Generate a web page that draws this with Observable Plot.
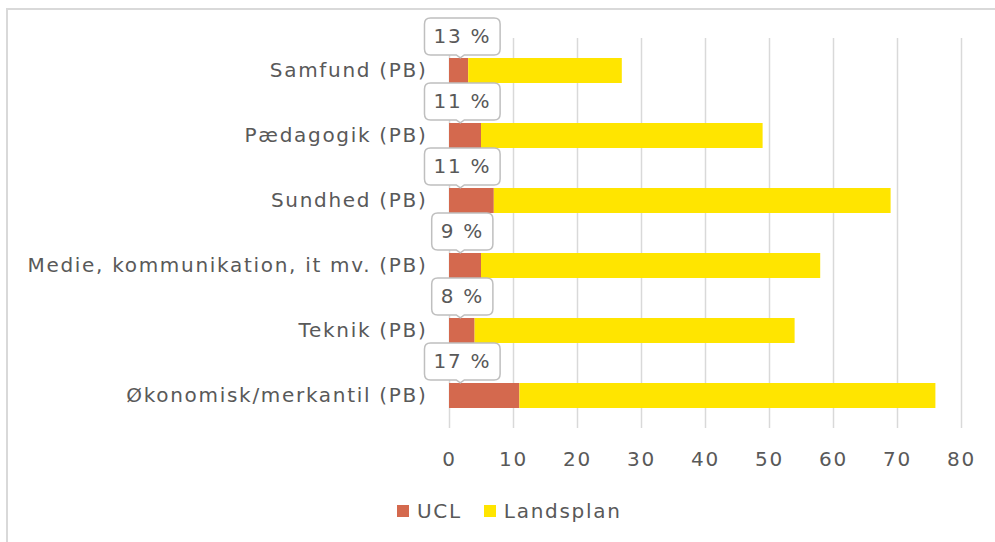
<!DOCTYPE html>
<html><head><meta charset="utf-8">
<script src="https://cdn.jsdelivr.net/npm/d3@7"></script>
<script src="https://cdn.jsdelivr.net/npm/@observablehq/plot@0.6"></script>
<style>
html,body{margin:0;padding:0;background:#fff;overflow:hidden;}
body{font-family:"DejaVu Sans",sans-serif;color:#595959;}
#wrap{position:relative;width:995px;height:542px;overflow:hidden;}
#frame{position:absolute;left:6px;top:8px;width:1100px;height:700px;border:2px solid #d9d9d9;box-sizing:border-box;}
#chart{position:absolute;left:0;top:0;}
#legend{position:absolute;left:397px;top:500px;display:flex;align-items:center;font-size:20px;letter-spacing:1.7px;line-height:22px;color:#595959;}
#legend .item{display:flex;align-items:center;margin-right:22px;}
#legend .sw{width:12px;height:12px;margin-right:8px;}
</style></head><body>
<div id="wrap">
<div id="frame"></div>
<div id="chart"></div>
<div id="legend"></div>
</div>
<script>
const categories = ["Samfund (PB)", "Pædagogik (PB)", "Sundhed (PB)", "Medie, kommunikation, it mv. (PB)", "Teknik (PB)", "Økonomisk/merkantil (PB)"];
const uclValues = [3, 5, 7, 5, 4, 11];
const landsplanValues = [24, 44, 62, 53, 50, 65];
const pctLabels = [13, 11, 11, 9, 8, 17];
const xTicks = [0, 10, 20, 30, 40, 50, 60, 70, 80];
const seriesNames = ["UCL", "Landsplan"];
const seriesColors = ["#D4694E", "#FFE500"];

const rows = [];
categories.forEach((c, i) => {
  rows.push({cat: c, series: seriesNames[0], value: uclValues[i], order: 0});
  rows.push({cat: c, series: seriesNames[1], value: landsplanValues[i], order: 1});
});
const callouts = categories.map((c, i) => ({cat: c, label: pctLabels[i] + " %"}));

const chart = Plot.plot({
  width: 995,
  height: 480,
  marginLeft: 449,
  marginRight: 34,
  marginTop: 38,
  marginBottom: 52,
  style: {fontFamily: "DejaVu Sans", fontSize: "20px", letterSpacing: "1.7px", color: "#595959", background: "transparent", overflow: "visible"},
  x: {domain: [0, 80], ticks: xTicks, tickSize: 0, tickPadding: 23, label: null},
  y: {domain: categories, paddingInner: 0.615, paddingOuter: 0.3075, tickSize: 0, tickPadding: 22, label: null},
  color: {domain: seriesNames, range: seriesColors},
  marks: [
    Plot.gridX(xTicks, {stroke: "#d9d9d9", strokeOpacity: 1, strokeWidth: 1.5}),
    Plot.barX(rows, Plot.stackX({x: "value", y: "cat", fill: "series", order: "order"})),
    Plot.text(callouts, {x: 2, y: "cat", text: "label", dy: -34, fill: "#595959", textAnchor: "middle", lineAnchor: "middle"})
  ]
});
document.getElementById("chart").appendChild(chart);

// draw callout boxes behind the label texts
const ns = "http://www.w3.org/2000/svg";
chart.querySelectorAll('g[aria-label="text"] text').forEach(t => {
  const b = t.getBBox();
  const padX = 9, w = b.width + 2 * padX, h = 37;
  const cx = b.x + b.width / 2, cy = b.y + b.height / 2;
  const x0 = cx - w / 2, y0 = cy - h / 2, x1 = cx + w / 2, y1 = cy + h / 2, r = 6;
  const px = cx - 2;
  const d = `M${x0 + r},${y0} H${x1 - r} Q${x1},${y0} ${x1},${y0 + r} V${y1 - r} Q${x1},${y1} ${x1 - r},${y1} H${px + 4} L${px},${y1 + 3} L${px - 4},${y1} H${x0 + r} Q${x0},${y1} ${x0},${y1 - r} V${y0 + r} Q${x0},${y0} ${x0 + r},${y0} Z`;
  const p = document.createElementNS(ns, "path");
  p.setAttribute("d", d);
  p.setAttribute("fill", "#fff");
  p.setAttribute("stroke", "#bfbfbf");
  p.setAttribute("stroke-width", "1.5");
  const tr = t.getAttribute("transform");
  if (tr) p.setAttribute("transform", tr);
  t.parentNode.insertBefore(p, t);
});

const legend = document.getElementById("legend");
seriesNames.forEach((s, i) => {
  const it = document.createElement("div");
  it.className = "item";
  const sw = document.createElement("div");
  sw.className = "sw";
  sw.style.background = seriesColors[i];
  const tx = document.createElement("span");
  tx.textContent = s;
  it.appendChild(sw); it.appendChild(tx);
  legend.appendChild(it);
});
</script>
</body></html>
